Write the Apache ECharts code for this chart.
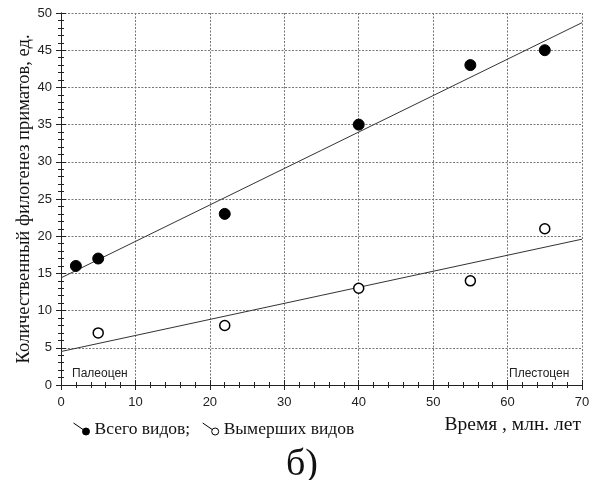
<!DOCTYPE html>
<html><head><meta charset="utf-8">
<script src="https://cdn.jsdelivr.net/npm/echarts@6/dist/echarts.min.js"></script>
<style>html,body{margin:0;padding:0;background:#fff}#c{width:596px;height:480px}</style>
</head><body><div id="c"></div>
<script>
// Data
const totalX = [2, 5, 22, 40, 55, 65];
const totalY = [16, 17, 23, 35, 43, 45];
const extinctX = [5, 22, 40, 55, 65];
const extinctY = [7, 8, 13, 14, 21];
// trend line end points
const totalTrend = [[0, 14.4], [70, 48.7]];
const extinctTrend = [[0, 4.5], [70, 19.6]];
const xTicks = [0, 10, 20, 30, 40, 50, 60, 70];
const yTicks = [0, 5, 10, 15, 20, 25, 30, 35, 40, 45, 50];

const serif = '"Liberation Serif","Times New Roman",serif';
const sans = '"Liberation Sans",Arial,sans-serif';

const chart = echarts.init(document.getElementById('c'));
const legendIcon = 'path://M0,0 L9.5,6.5 M9,8.5 A3.5,3.5 0 1,0 16,8.5 A3.5,3.5 0 1,0 9,8.5 Z';
const tick = {show:true, inside:true, length:5, lineStyle:{color:'#222'}};
const minor = {show:true, splitNumber:5, length:3, lineStyle:{color:'#222'}};
chart.setOption({
  animation:false,
  backgroundColor:'#fff',
  title:{text:'б)', left:281, top:441, textStyle:{fontFamily:serif, fontSize:38, fontWeight:'normal', color:'#111'}},
  grid:{left:61, right:14, top:13, bottom:95, containLabel:false, outerBoundsMode:'none'},
  legend:{
    left:68, top:415, itemWidth:16, itemHeight:12, itemGap:12,
    textStyle:{fontFamily:serif, fontSize:17.5, color:'#111'},
    data:[
      {name:'Всего видов;', icon:legendIcon, itemStyle:{color:'#000', borderColor:'#000', borderWidth:1}},
      {name:'Вымерших видов', icon:legendIcon, itemStyle:{color:'#fff', borderColor:'#000', borderWidth:1}}
    ]
  },
  xAxis:[{
    type:'value', min:xTicks[0], max:xTicks[xTicks.length-1], interval:10,
    axisLine:{lineStyle:{color:'#222'}},
    axisTick:tick, minorTick:minor,
    axisLabel:{fontFamily:sans, fontSize:13, color:'#222', margin:11},
    splitLine:{show:true, lineStyle:{color:'#777', type:[2,1.5]}}
  },{
    type:'value', position:'top', min:0, max:70, interval:10,
    axisLine:{show:true, lineStyle:{color:'#222'}},
    axisTick:tick, minorTick:minor, axisLabel:{show:false}, splitLine:{show:false}
  }],
  yAxis:[{
    type:'value', min:yTicks[0], max:yTicks[yTicks.length-1], interval:5,
    name:'Количественный филогенез приматов, ед.', nameLocation:'middle', nameGap:27, nameMoveOverlap:false,
    nameTextStyle:{fontFamily:serif, fontSize:18.5, color:'#111'},
    axisLine:{show:true, lineStyle:{color:'#222'}},
    axisTick:tick, minorTick:minor,
    axisLabel:{fontFamily:sans, fontSize:13, color:'#222', margin:9},
    splitLine:{show:true, lineStyle:{color:'#777', type:[2,1.5]}}
  },{
    type:'value', position:'right', min:0, max:50, interval:5,
    axisLine:{show:true, lineStyle:{color:'#222'}},
    axisTick:tick, minorTick:minor, axisLabel:{show:false}, splitLine:{show:false}
  }],
  graphic:[
    {type:'text', right:15, top:415, style:{text:'Время , млн. лет', font:'19.5px '+serif, fill:'#111'}},
    {type:'text', left:72, top:368, style:{text:'Палеоцен', font:'12px '+sans, fill:'#222'}},
    {type:'text', left:509, top:368, style:{text:'Плестоцен', font:'12px '+sans, fill:'#222'}}
  ],
  series:[
    {type:'line', data:totalTrend, symbol:'none', lineStyle:{color:'#333', width:1}, silent:true, z:2},
    {type:'line', data:extinctTrend, symbol:'none', lineStyle:{color:'#333', width:1}, silent:true, z:2},
    {name:'Всего видов;', type:'scatter', symbolSize:11, data:totalX.map((x,i)=>[x,totalY[i]]),
      itemStyle:{color:'#000', borderColor:'#000', borderWidth:1, opacity:1}, z:3},
    {name:'Вымерших видов', type:'scatter', symbolSize:10, data:extinctX.map((x,i)=>[x,extinctY[i]]),
      itemStyle:{color:'#fff', borderColor:'#000', borderWidth:1.5, opacity:1}, z:3}
  ]
});
</script></body></html>
